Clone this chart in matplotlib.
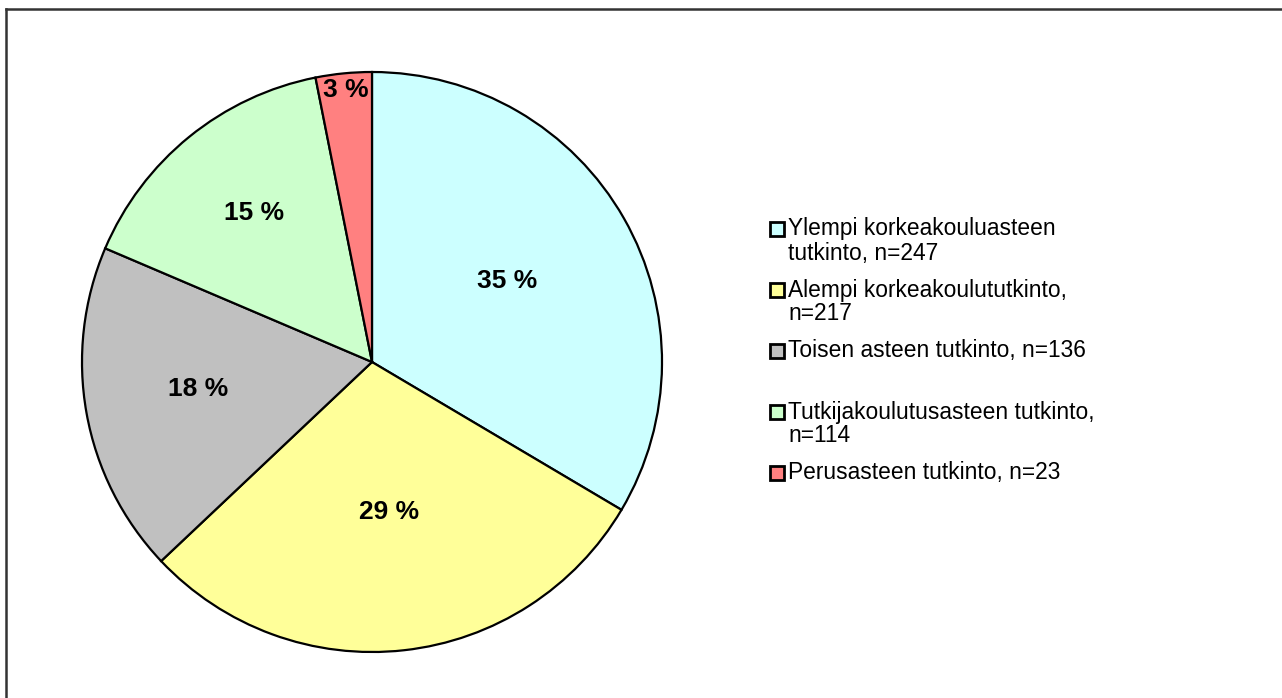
#!/usr/bin/env python3
"""Pie chart: education level of respondents (Finnish labels)."""
import numpy as np
import matplotlib
matplotlib.use("Agg")
import matplotlib.pyplot as plt
from matplotlib.patches import Rectangle
from matplotlib.lines import Line2D
from matplotlib.transforms import offset_copy

plt.rcParams["font.family"] = ["Liberation Sans", "DejaVu Sans"]

# data
categories = ["Ylempi korkeakouluasteen\ntutkinto, n=247",
              "Alempi korkeakoulututkinto,\nn=217",
              "Toisen asteen tutkinto, n=136",
              "Tutkijakoulutusasteen tutkinto,\nn=114",
              "Perusasteen tutkinto, n=23"]
counts = [247, 217, 136, 114, 23]
pct_labels = ["35 %", "29 %", "18 %", "15 %", "3 %"]
colors = ["#CCFFFF", "#FFFF99", "#C0C0C0", "#CCFFCC", "#FF8080"]
label_dist = [0.535, 0.535, 0.61, 0.645, 0.93]

W, H = 1282, 698
fig = plt.figure(figsize=(W / 100, H / 100), dpi=100)

# pie axes: centre (372, 362), radius 290 px
cx, cy, r = 372, 362, 290
ax = fig.add_axes([(cx - r) / W, 1 - (cy + r) / H, 2 * r / W, 2 * r / H])
wedges, _ = ax.pie(counts, colors=colors, startangle=90, counterclock=False,
                   wedgeprops=dict(edgecolor="black", linewidth=1.6, clip_on=False))
ax.set_xlim(-1, 1)
ax.set_ylim(-1, 1)
ax.set_aspect("equal")
ax.axis("off")

# nudge labels up a few pixels (Excel centres on cap height)
lab_tr = offset_copy(ax.transData, fig=fig, x=0, y=4, units="dots")
for w, lab, d in zip(wedges, pct_labels, label_dist):
    mid = np.deg2rad((w.theta1 + w.theta2) / 2)
    ax.text(d * np.cos(mid), d * np.sin(mid), lab, ha="center", va="center",
            fontsize=19, fontweight="bold", transform=lab_tr)

# legend drawn by hand, Excel style
sq = 14
x_sq, x_txt = 769.5, 788
y0, step, line_h = 229, 61, 24
for i, (lab, col) in enumerate(zip(categories, colors)):
    yc = y0 + i * step
    fig.add_artist(Rectangle((x_sq / W, 1 - (yc + sq / 2) / H), sq / W, sq / H,
                             facecolor=col, edgecolor="black", linewidth=2.0,
                             transform=fig.transFigure))
    for j, line in enumerate(lab.split("\n")):
        fig.text(x_txt / W, 1 - (yc + j * line_h) / H, line, ha="left", va="center",
                 fontsize=16.4)

# outer frame (top and left edges visible)
fig.add_artist(Line2D([5.5 / W, 1.05], [1 - 8.5 / H, 1 - 8.5 / H], color="#333333",
                      linewidth=1.8, transform=fig.transFigure, clip_on=False))
fig.add_artist(Line2D([5.5 / W, 5.5 / W], [-0.05, 1 - 8.5 / H], color="#333333",
                      linewidth=1.8, transform=fig.transFigure, clip_on=False))

fig.savefig("out.png", dpi=100)
plt.close(fig)
